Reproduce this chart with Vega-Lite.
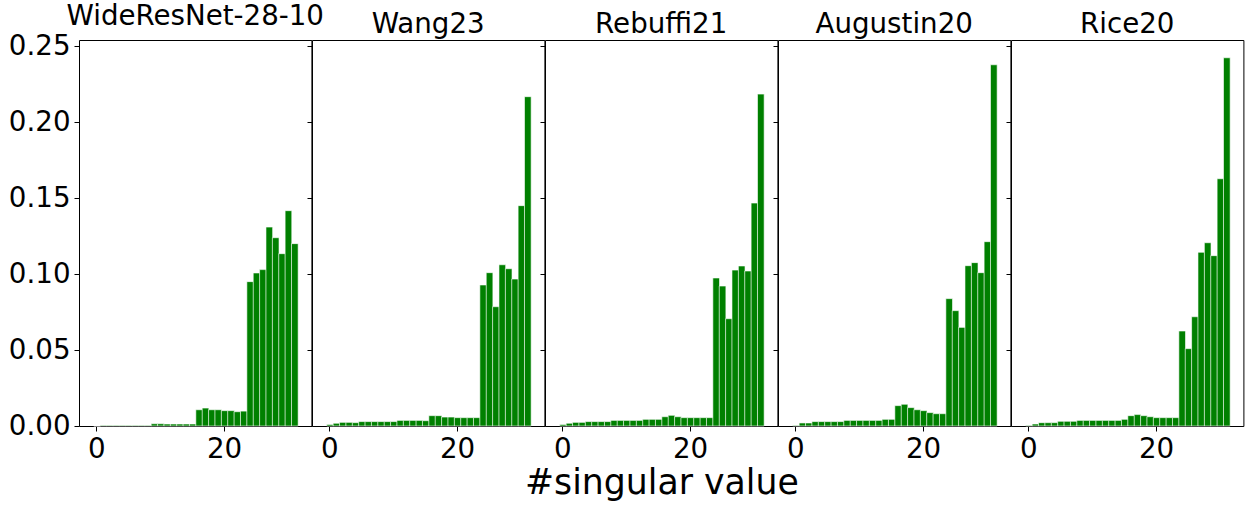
{
  "$schema": "https://vega.github.io/schema/vega-lite/v6.json",
  "padding": {"left": 7, "top": 2, "right": 5, "bottom": 5},
  "background": "white",
  "datasets": {
    "sv": [
      {"m":"WideResNet-28-10","i":0,"v":0},{"m":"WideResNet-28-10","i":1,"v":0.0004},{"m":"WideResNet-28-10","i":2,"v":0.0004},{"m":"WideResNet-28-10","i":3,"v":0.0004},{"m":"WideResNet-28-10","i":4,"v":0.0004},{"m":"WideResNet-28-10","i":5,"v":0.0004},{"m":"WideResNet-28-10","i":6,"v":0.0004},{"m":"WideResNet-28-10","i":7,"v":0.0004},{"m":"WideResNet-28-10","i":8,"v":0.0004},{"m":"WideResNet-28-10","i":9,"v":0.0015},{"m":"WideResNet-28-10","i":10,"v":0.0015},{"m":"WideResNet-28-10","i":11,"v":0.0013},{"m":"WideResNet-28-10","i":12,"v":0.0013},{"m":"WideResNet-28-10","i":13,"v":0.0013},{"m":"WideResNet-28-10","i":14,"v":0.0013},{"m":"WideResNet-28-10","i":15,"v":0.0013},{"m":"WideResNet-28-10","i":16,"v":0.0107},{"m":"WideResNet-28-10","i":17,"v":0.0118},{"m":"WideResNet-28-10","i":18,"v":0.0107},{"m":"WideResNet-28-10","i":19,"v":0.0107},{"m":"WideResNet-28-10","i":20,"v":0.0101},{"m":"WideResNet-28-10","i":21,"v":0.0101},{"m":"WideResNet-28-10","i":22,"v":0.0094},{"m":"WideResNet-28-10","i":23,"v":0.0098},{"m":"WideResNet-28-10","i":24,"v":0.095},{"m":"WideResNet-28-10","i":25,"v":0.1007},{"m":"WideResNet-28-10","i":26,"v":0.1029},{"m":"WideResNet-28-10","i":27,"v":0.1309},{"m":"WideResNet-28-10","i":28,"v":0.1239},{"m":"WideResNet-28-10","i":29,"v":0.1134},{"m":"WideResNet-28-10","i":30,"v":0.1417},{"m":"WideResNet-28-10","i":31,"v":0.12},
      {"m":"Wang23","i":0,"v":0.001},{"m":"Wang23","i":1,"v":0.0018},{"m":"Wang23","i":2,"v":0.0024},{"m":"Wang23","i":3,"v":0.0024},{"m":"Wang23","i":4,"v":0.0022},{"m":"Wang23","i":5,"v":0.0029},{"m":"Wang23","i":6,"v":0.0029},{"m":"Wang23","i":7,"v":0.0029},{"m":"Wang23","i":8,"v":0.0029},{"m":"Wang23","i":9,"v":0.0029},{"m":"Wang23","i":10,"v":0.0029},{"m":"Wang23","i":11,"v":0.0037},{"m":"Wang23","i":12,"v":0.0037},{"m":"Wang23","i":13,"v":0.0037},{"m":"Wang23","i":14,"v":0.0037},{"m":"Wang23","i":15,"v":0.0035},{"m":"Wang23","i":16,"v":0.0068},{"m":"Wang23","i":17,"v":0.0068},{"m":"Wang23","i":18,"v":0.0059},{"m":"Wang23","i":19,"v":0.0059},{"m":"Wang23","i":20,"v":0.0055},{"m":"Wang23","i":21,"v":0.0055},{"m":"Wang23","i":22,"v":0.0055},{"m":"Wang23","i":23,"v":0.0055},{"m":"Wang23","i":24,"v":0.0928},{"m":"Wang23","i":25,"v":0.1009},{"m":"Wang23","i":26,"v":0.0785},{"m":"Wang23","i":27,"v":0.1061},{"m":"Wang23","i":28,"v":0.1035},{"m":"Wang23","i":29,"v":0.0967},{"m":"Wang23","i":30,"v":0.145},{"m":"Wang23","i":31,"v":0.2167},
      {"m":"Rebuffi21","i":0,"v":0.001},{"m":"Rebuffi21","i":1,"v":0.0018},{"m":"Rebuffi21","i":2,"v":0.0024},{"m":"Rebuffi21","i":3,"v":0.0024},{"m":"Rebuffi21","i":4,"v":0.0029},{"m":"Rebuffi21","i":5,"v":0.0029},{"m":"Rebuffi21","i":6,"v":0.0029},{"m":"Rebuffi21","i":7,"v":0.0029},{"m":"Rebuffi21","i":8,"v":0.0037},{"m":"Rebuffi21","i":9,"v":0.0037},{"m":"Rebuffi21","i":10,"v":0.0037},{"m":"Rebuffi21","i":11,"v":0.0037},{"m":"Rebuffi21","i":12,"v":0.0037},{"m":"Rebuffi21","i":13,"v":0.0044},{"m":"Rebuffi21","i":14,"v":0.0044},{"m":"Rebuffi21","i":15,"v":0.0044},{"m":"Rebuffi21","i":16,"v":0.0061},{"m":"Rebuffi21","i":17,"v":0.007},{"m":"Rebuffi21","i":18,"v":0.0061},{"m":"Rebuffi21","i":19,"v":0.0055},{"m":"Rebuffi21","i":20,"v":0.0055},{"m":"Rebuffi21","i":21,"v":0.0055},{"m":"Rebuffi21","i":22,"v":0.0055},{"m":"Rebuffi21","i":23,"v":0.0055},{"m":"Rebuffi21","i":24,"v":0.0974},{"m":"Rebuffi21","i":25,"v":0.0921},{"m":"Rebuffi21","i":26,"v":0.0706},{"m":"Rebuffi21","i":27,"v":0.1026},{"m":"Rebuffi21","i":28,"v":0.1053},{"m":"Rebuffi21","i":29,"v":0.102},{"m":"Rebuffi21","i":30,"v":0.1467},{"m":"Rebuffi21","i":31,"v":0.2184},
      {"m":"Augustin20","i":0,"v":0.0004},{"m":"Augustin20","i":1,"v":0.002},{"m":"Augustin20","i":2,"v":0.002},{"m":"Augustin20","i":3,"v":0.0029},{"m":"Augustin20","i":4,"v":0.0029},{"m":"Augustin20","i":5,"v":0.0029},{"m":"Augustin20","i":6,"v":0.0029},{"m":"Augustin20","i":7,"v":0.0029},{"m":"Augustin20","i":8,"v":0.0037},{"m":"Augustin20","i":9,"v":0.0037},{"m":"Augustin20","i":10,"v":0.0037},{"m":"Augustin20","i":11,"v":0.0037},{"m":"Augustin20","i":12,"v":0.0037},{"m":"Augustin20","i":13,"v":0.0037},{"m":"Augustin20","i":14,"v":0.0044},{"m":"Augustin20","i":15,"v":0.0044},{"m":"Augustin20","i":16,"v":0.0134},{"m":"Augustin20","i":17,"v":0.0143},{"m":"Augustin20","i":18,"v":0.0121},{"m":"Augustin20","i":19,"v":0.0107},{"m":"Augustin20","i":20,"v":0.0101},{"m":"Augustin20","i":21,"v":0.0088},{"m":"Augustin20","i":22,"v":0.0081},{"m":"Augustin20","i":23,"v":0.0081},{"m":"Augustin20","i":24,"v":0.0838},{"m":"Augustin20","i":25,"v":0.0759},{"m":"Augustin20","i":26,"v":0.0649},{"m":"Augustin20","i":27,"v":0.1055},{"m":"Augustin20","i":28,"v":0.1075},{"m":"Augustin20","i":29,"v":0.1009},{"m":"Augustin20","i":30,"v":0.1213},{"m":"Augustin20","i":31,"v":0.2377},
      {"m":"Rice20","i":0,"v":0.0004},{"m":"Rice20","i":1,"v":0.0013},{"m":"Rice20","i":2,"v":0.0022},{"m":"Rice20","i":3,"v":0.0022},{"m":"Rice20","i":4,"v":0.0022},{"m":"Rice20","i":5,"v":0.0031},{"m":"Rice20","i":6,"v":0.0031},{"m":"Rice20","i":7,"v":0.0031},{"m":"Rice20","i":8,"v":0.0037},{"m":"Rice20","i":9,"v":0.0037},{"m":"Rice20","i":10,"v":0.0037},{"m":"Rice20","i":11,"v":0.0037},{"m":"Rice20","i":12,"v":0.0037},{"m":"Rice20","i":13,"v":0.0037},{"m":"Rice20","i":14,"v":0.0037},{"m":"Rice20","i":15,"v":0.0044},{"m":"Rice20","i":16,"v":0.0068},{"m":"Rice20","i":17,"v":0.0075},{"m":"Rice20","i":18,"v":0.0068},{"m":"Rice20","i":19,"v":0.0061},{"m":"Rice20","i":20,"v":0.0055},{"m":"Rice20","i":21,"v":0.0055},{"m":"Rice20","i":22,"v":0.0055},{"m":"Rice20","i":23,"v":0.0055},{"m":"Rice20","i":24,"v":0.0625},{"m":"Rice20","i":25,"v":0.0509},{"m":"Rice20","i":26,"v":0.0719},{"m":"Rice20","i":27,"v":0.1143},{"m":"Rice20","i":28,"v":0.1206},{"m":"Rice20","i":29,"v":0.1121},{"m":"Rice20","i":30,"v":0.1627},{"m":"Rice20","i":31,"v":0.2423}
    ]
  },
  "data": {"name": "sv"},
  "spacing": 0,
  "bounds": "flush",
  "title": {"text": "#singular value", "orient": "bottom", "anchor": "middle", "fontSize": 34.7, "fontWeight": "normal", "color": "black", "offset": 4, "dx": 36},
  "hconcat": [
    {
      "title": "WideResNet-28-10",
      "width": 232.4, "height": 386,
      "transform": [{"filter": "datum.m === 'WideResNet-28-10'"}],
      "mark": {"type": "bar", "width": 6.66, "xOffset": 0.67, "color": "#008000", "stroke": "white", "strokeWidth": 0.6},
      "encoding": {
        "x": {"field": "i", "type": "quantitative", "scale": {"domain": [-1.95, 32.92], "nice": false, "zero": false}, "axis": {"values": [0, 20], "title": null}},
        "y": {"field": "v", "type": "quantitative", "scale": {"domain": [0, 0.254], "nice": false}, "axis": {"values": [0, 0.05, 0.1, 0.15, 0.2, 0.25], "format": ".2f", "title": null}}
      }
    },
    {
      "title": "Wang23",
      "width": 232.4, "height": 386,
      "transform": [{"filter": "datum.m === 'Wang23'"}],
      "mark": {"type": "bar", "width": 6.66, "xOffset": 0.67, "color": "#008000", "stroke": "white", "strokeWidth": 0.6},
      "encoding": {
        "x": {"field": "i", "type": "quantitative", "scale": {"domain": [-1.95, 32.92], "nice": false, "zero": false}, "axis": {"values": [0, 20], "title": null}},
        "y": {"field": "v", "type": "quantitative", "scale": {"domain": [0, 0.254], "nice": false}, "axis": {"values": [0, 0.05, 0.1, 0.15, 0.2, 0.25], "labels": false, "title": null}}
      }
    },
    {
      "title": "Rebuffi21",
      "width": 232.4, "height": 386,
      "transform": [{"filter": "datum.m === 'Rebuffi21'"}],
      "mark": {"type": "bar", "width": 6.66, "xOffset": 0.67, "color": "#008000", "stroke": "white", "strokeWidth": 0.6},
      "encoding": {
        "x": {"field": "i", "type": "quantitative", "scale": {"domain": [-1.95, 32.92], "nice": false, "zero": false}, "axis": {"values": [0, 20], "title": null}},
        "y": {"field": "v", "type": "quantitative", "scale": {"domain": [0, 0.254], "nice": false}, "axis": {"values": [0, 0.05, 0.1, 0.15, 0.2, 0.25], "labels": false, "title": null}}
      }
    },
    {
      "title": "Augustin20",
      "width": 232.4, "height": 386,
      "transform": [{"filter": "datum.m === 'Augustin20'"}],
      "mark": {"type": "bar", "width": 6.66, "xOffset": 0.67, "color": "#008000", "stroke": "white", "strokeWidth": 0.6},
      "encoding": {
        "x": {"field": "i", "type": "quantitative", "scale": {"domain": [-1.95, 32.92], "nice": false, "zero": false}, "axis": {"values": [0, 20], "title": null}},
        "y": {"field": "v", "type": "quantitative", "scale": {"domain": [0, 0.254], "nice": false}, "axis": {"values": [0, 0.05, 0.1, 0.15, 0.2, 0.25], "labels": false, "title": null}}
      }
    },
    {
      "title": "Rice20",
      "width": 232.4, "height": 386,
      "transform": [{"filter": "datum.m === 'Rice20'"}],
      "mark": {"type": "bar", "width": 6.66, "xOffset": 0.67, "color": "#008000", "stroke": "white", "strokeWidth": 0.6},
      "encoding": {
        "x": {"field": "i", "type": "quantitative", "scale": {"domain": [-1.95, 32.92], "nice": false, "zero": false}, "axis": {"values": [0, 20], "title": null}},
        "y": {"field": "v", "type": "quantitative", "scale": {"domain": [0, 0.254], "nice": false}, "axis": {"values": [0, 0.05, 0.1, 0.15, 0.2, 0.25], "labels": false, "title": null}}
      }
    }
  ],
  "config": {
    "font": "DejaVu Sans",
    "view": {"stroke": "black", "strokeWidth": 1},
    "title": {"fontSize": 27.7, "fontWeight": "normal", "color": "black", "offset": 1},
    "axis": {"grid": false, "domain": false, "tickColor": "black", "tickSize": 5, "tickWidth": 1, "labelColor": "black", "labelFontSize": 27.7, "labelPadding": 4}
  }
}
